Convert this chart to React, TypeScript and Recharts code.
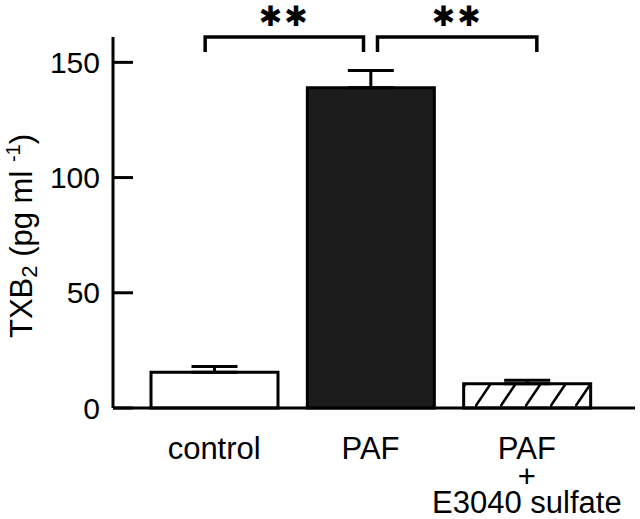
import { Bar, BarChart, Cell, ErrorBar, ReferenceLine, XAxis, YAxis } from "recharts"

const categories = ["control", "PAF", "PAF\n+\nE3040 sulfate"]
const means = [15.5, 139, 10.5]
const errors = [2.5, 7.5, 1.5]
const yTicks = [0, 50, 100, 150]
const sigPairs = [
  [categories[0], categories[1]],
  [categories[1], categories[2]],
]
const sigLabel = "✱✱"

// horizontal nudges for the bracket ends so the two brackets don't touch
const bracketShift = [
  [-9, -7],
  [7, 10],
]
const fills = ["#ffffff", "#1c1c1c", "url(#hatch)"]
const FONT = "'Liberation Sans', Arial, Helvetica, sans-serif"

const data = categories.map((name, i) => ({
  name,
  value: means[i],
  err: [0, errors[i]],
}))

const YTick = ({ x, y, payload }: any) => (
  <g>
    <line x1={x + 13} x2={x + 33} y1={y} y2={y} stroke="#000" strokeWidth={3} />
    <text x={x} y={y} textAnchor="end" dominantBaseline="central" fontSize={30} fontFamily={FONT} fill="#000">
      {payload.value}
    </text>
  </g>
)

const lineGaps = [49, 28, 26]

const XTick = ({ x, y, payload }: any) => {
  const lines = String(payload.value).split("\n")
  return (
    <text x={x} y={y} textAnchor="middle" fontSize={31} fontFamily={FONT} fill="#000">
      {lines.map((l, i) => (
        <tspan key={i} x={x} dy={lineGaps[i]}>
          {l}
        </tspan>
      ))}
    </text>
  )
}

const YLabel = () => (
  <text
    transform="translate(32, 236) rotate(-90)"
    textAnchor="middle"
    fontSize={31}
    fontFamily={FONT}
    fill="#000"
  >
    TXB<tspan fontSize={22} dy={5}>2</tspan>
    <tspan dy={-5}> (pg ml </tspan>
    <tspan fontSize={20} dy={-12}>-1</tspan>
    <tspan dy={12}>)</tspan>
  </text>
)

const Stars = ({ viewBox, shift }: any) => (
  <text
    x={viewBox.x + viewBox.width / 2 + (shift[0] + shift[1]) / 2}
    y={viewBox.y - 11}
    textAnchor="middle"
    fontSize={28}
    fontFamily="'DejaVu Sans', sans-serif"
    fill="#000"
    letterSpacing={2}
  >
    {sigLabel}
  </text>
)

const bracketShape = (shift: number[]) => (p: any) => {
  const xa = p.x1 + shift[0]
  const xb = p.x2 + shift[1]
  const y = p.y1
  return (
    <path
      d={`M${xa},${y + 15} L${xa},${y} L${xb},${y} L${xb},${y + 15}`}
      fill="none"
      stroke="#000"
      strokeWidth={3.5}
    />
  )
}

export default function App() {
  return (
    <div style={{ position: "absolute", left: 0, top: 0, background: "#fff" }}>
      <BarChart
        width={640}
        height={519}
        data={data}
        margin={{ top: 37, right: 5, bottom: 31, left: 0 }}
        barSize={127}
      >
        <defs>
          <pattern id="hatch" patternUnits="userSpaceOnUse" width={25} height={37}>
            <rect width={25} height={37} fill="#fff" />
            <path d="M-2.5,40.7 L27.5,-3.7" stroke="#000" strokeWidth={2.5} />
          </pattern>
        </defs>
        <XAxis
          dataKey="name"
          padding={{ left: 23, right: 30 }}
          height={80}
          tickLine={false}
          tickSize={0}
          tick={<XTick />}
          axisLine={{ stroke: "#000", strokeWidth: 3 }}
          interval={0}
        />
        <YAxis
          width={113}
          domain={[0, 161]}
          ticks={yTicks}
          tickLine={false}
          tickSize={0}
          tickMargin={13}
          tick={<YTick />}
          axisLine={{ stroke: "#000", strokeWidth: 3 }}
          label={<YLabel />}
        />
        <Bar dataKey="value" stroke="#000" strokeWidth={3} isAnimationActive={false}>
          {data.map((d, i) => (
            <Cell key={d.name} fill={fills[i]} />
          ))}
          <ErrorBar dataKey="err" width={23} stroke="#000" strokeWidth={3} direction="y" />
        </Bar>
        {sigPairs.map(([a, b], i) => (
          <ReferenceLine
            key={`h${i}`}
            segment={[
              { x: a, y: 161 },
              { x: b, y: 161 },
            ]}
            ifOverflow="visible"
            shape={bracketShape(bracketShift[i])}
            label={<Stars shift={bracketShift[i]} />}
          />
        ))}
      </BarChart>
    </div>
  )
}
